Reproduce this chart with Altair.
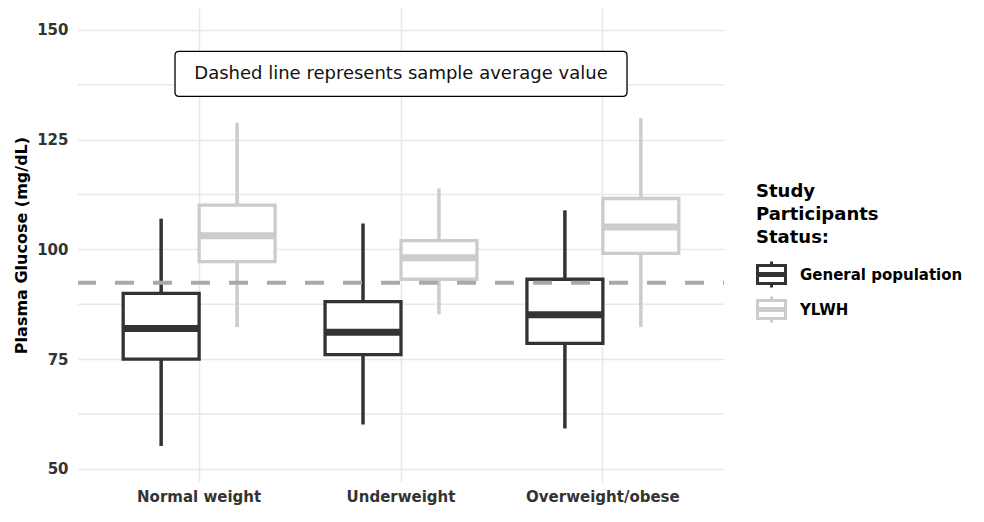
import altair as alt
import pandas as pd

categories = ["Normal weight", "Underweight", "Overweight/obese"]
groups = ["General population", "YLWH"]
group_colors = ["#333333", "#cccccc"]

gen_low = [55.2, 60.1, 59.2]
gen_q1 = [75.0, 76.0, 78.6]
gen_med = [82.0, 81.1, 85.1]
gen_q3 = [90.0, 88.1, 93.2]
gen_high = [107.0, 105.9, 108.9]

ylwh_low = [82.3, 85.2, 82.3]
ylwh_q1 = [97.2, 93.2, 99.1]
ylwh_med = [103.1, 98.1, 105.1]
ylwh_q3 = [110.1, 102.0, 111.6]
ylwh_high = [128.9, 113.9, 129.9]

sample_average = [92.4]
note_text = ["Dashed line represents sample average value"]
note_category = ["Underweight"]
note_value = [140]

y_major = [50, 75, 100, 125, 150]
y_minor = [62.5, 87.5, 112.5, 137.5]

rows = []
for i, c in enumerate(categories):
    rows.append(dict(category=c, group=groups[0], low=gen_low[i], q1=gen_q1[i],
                     med=gen_med[i], q3=gen_q3[i], high=gen_high[i]))
    rows.append(dict(category=c, group=groups[1], low=ylwh_low[i], q1=ylwh_q1[i],
                     med=ylwh_med[i], q3=ylwh_q3[i], high=ylwh_high[i]))
df = pd.DataFrame(rows)
avg_df = pd.DataFrame({"avg": sample_average})
minor_df = pd.DataFrame({"v": y_minor})
note_df = pd.DataFrame({"category": note_category, "value": note_value, "text": note_text})

FONT = "DejaVu Sans"
GRID = "#e8e8e8"

x_scale = alt.Scale(paddingInner=0, paddingOuter=0.1)
y_scale = alt.Scale(domain=[47, 155], nice=False, zero=False)
xo_scale = alt.Scale(paddingInner=0, paddingOuter=0.329)
col_scale = alt.Scale(domain=groups, range=group_colors)

x_axis = alt.Axis(title=None, labelAngle=0, labelFont=FONT, labelFontWeight="bold",
                  labelFontSize=15, labelColor="#333333", labelPadding=7,
                  ticks=False, domain=False, grid=True,
                  gridColor=GRID, gridWidth=1.6)
y_axis = alt.Axis(title="Plasma Glucose (mg/dL)", values=y_major,
                  labelFont=FONT, labelFontWeight="bold", labelFontSize=15,
                  labelColor="#333333", labelPadding=10, ticks=False,
                  domain=False, grid=True, gridColor=GRID, gridWidth=1.6,
                  titleFont=FONT, titleFontWeight="bold", titleFontSize=16,
                  titleColor="black", titlePadding=7)

legend_symbol = ("M-1,-0.64H1V0.64H-1Z M-1,-0.07H1 M-1,0.07H1 "
                 "M0,-0.64V-0.92 M0,0.64V0.92")

legend = alt.Legend(title=["Study", "Participants", "Status:"], orient="none",
                    legendX=678, legendY=175, titleFont=FONT, titleFontSize=18,
                    titleFontWeight="bold", titleColor="black", titleLineHeight=23,
                    titlePadding=12, labelFont=FONT, labelFontSize=15,
                    labelFontWeight="bold", labelColor="black", labelOffset=13,
                    labelLimit=300,
                    symbolType=legend_symbol, symbolSize=784, symbolStrokeWidth=3,
                    symbolFillColor="white", symbolOpacity=1, rowPadding=-4)


def X():
    return alt.X("category:N", scale=x_scale, axis=x_axis, sort=categories)


def XO():
    return alt.XOffset("group:N", scale=xo_scale, sort=groups)


def S():
    return alt.Stroke("group:N", scale=col_scale, legend=legend, sort=groups)


minor_grid = alt.Chart(minor_df).mark_rule(color=GRID, strokeWidth=1.6).encode(
    y=alt.Y("v:Q", scale=y_scale, axis=y_axis),
)

whiskers = alt.Chart(df).mark_rule(strokeWidth=3.5).encode(
    x=X(), xOffset=XO(),
    y=alt.Y("low:Q", scale=y_scale, axis=y_axis),
    y2="high:Q",
    stroke=S(),
)

boxes = alt.Chart(df).mark_bar(fill="white", strokeWidth=3.3, opacity=1).encode(
    x=X(), xOffset=XO(),
    y=alt.Y("q1:Q", scale=y_scale, axis=y_axis),
    y2="q3:Q",
    stroke=S(),
)

medians = alt.Chart(df).mark_tick(size=73, thickness=3.5, filled=False,
                                  strokeWidth=3.5, opacity=1).encode(
    x=X(), xOffset=XO(),
    y=alt.Y("med:Q", scale=y_scale, axis=y_axis),
    stroke=S(),
)

avg_line = alt.Chart(avg_df).mark_rule(color="#a9a9a9", strokeWidth=4,
                                       strokeDash=[19, 19], strokeDashOffset=18).encode(
    y=alt.Y("avg:Q", scale=y_scale, axis=y_axis),
)

label_shape = ("M-0.982,-0.0996H0.982Q1,-0.0996,1,-0.0816V0.0816Q1,0.0996,0.982,0.0996"
               "H-0.982Q-1,0.0996,-1,0.0816V-0.0816Q-1,-0.0996,-0.982,-0.0996Z")

note_box = alt.Chart(note_df).mark_point(shape=label_shape, size=452 * 452, filled=True,
                                         fill="white", stroke="black", strokeWidth=1.3,
                                         opacity=1).encode(
    x=X(),
    y=alt.Y("value:Q", scale=y_scale, axis=y_axis),
)

note_label = alt.Chart(note_df).mark_text(font=FONT, fontSize=18, color="#111111",
                                          align="center", baseline="middle").encode(
    x=X(),
    y=alt.Y("value:Q", scale=y_scale, axis=y_axis),
    text="text:N",
)

chart = alt.layer(minor_grid, whiskers, boxes, medians, avg_line, note_box,
                  note_label).properties(
    width=646, height=474,
    padding={"left": 5, "top": 0, "right": 5, "bottom": 3},
    background="white",
).configure_view(stroke=None)

chart.save("out.html", embed_options={"renderer": "svg", "actions": False})
